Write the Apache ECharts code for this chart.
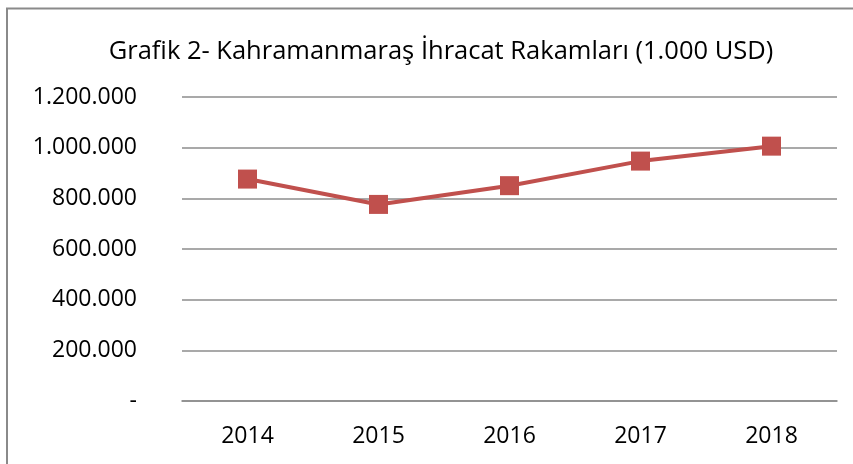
<!DOCTYPE html>
<html><head><meta charset="utf-8">
<script src="https://cdn.jsdelivr.net/npm/echarts@6/dist/echarts.min.js"></script>
<style>html,body{margin:0;padding:0;background:#fff}#c{width:853px;height:464px}</style>
</head><body><div id="c"></div>
<script>
const titleText = 'Grafik 2- Kahramanmaraş İhracat Rakamları (1.000 USD)';
const years = ['2014', '2015', '2016', '2017', '2018'];
const exports = [876000, 776000, 850000, 947000, 1006000];
const yMin = 0, yMax = 1200000, yStep = 200000;

const chart = echarts.init(document.getElementById('c'));
const fmt = v => v === 0 ? '-' : String(v).replace(/\B(?=(\d{3})+(?!\d))/g, '.');
chart.setOption({
  animation: false,
  graphic: [{type: 'rect', shape: {x: 7, y: 8.5, width: 900, height: 500}, style: {fill: 'none', stroke: '#8a8a8a', lineWidth: 2}}],
  title: {text: titleText, left: 436, top: 34, textAlign: 'center',
    textStyle: {fontFamily: 'Open Sans', fontWeight: 'normal', fontSize: 25.5, color: '#000'}},
  grid: {left: 182, right: 16, top: 97, bottom: 63},
  xAxis: {type: 'category', data: years, boundaryGap: true,
    axisLine: {show: true, lineStyle: {color: '#8c8c8c', width: 1.6}},
    axisTick: {show: false},
    axisLabel: {margin: 24, fontFamily: 'Open Sans', fontSize: 23, color: '#000'}},
  yAxis: {type: 'value', min: yMin, max: yMax, interval: yStep,
    axisLine: {show: false}, axisTick: {show: false},
    splitLine: {lineStyle: {color: '#8c8c8c', width: 1.6}},
    axisLabel: {margin: 45, fontFamily: 'Open Sans', fontSize: 23, color: '#000', formatter: fmt}},
  series: [{type: 'line', data: exports, symbol: 'rect', symbolSize: 19,
    lineStyle: {color: '#C0504D', width: 4},
    itemStyle: {color: '#C0504D'}}]
});
</script></body></html>
